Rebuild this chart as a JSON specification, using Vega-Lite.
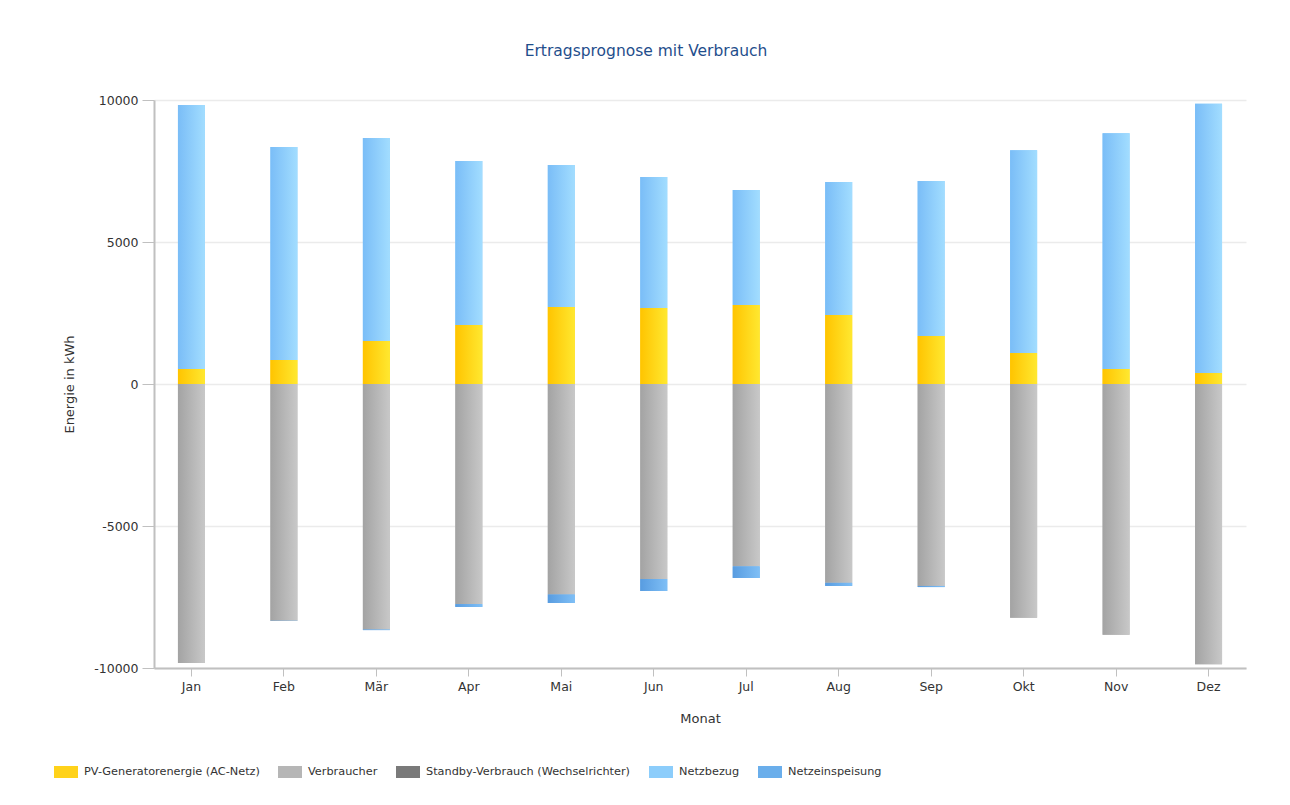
{
  "$schema": "https://vega.github.io/schema/vega-lite/v6.json",
  "width": 1092,
  "height": 568,
  "autosize": "none",
  "padding": {"left": 154, "top": 100, "right": 44, "bottom": 137},
  "background": "white",
  "title": {
    "text": "Ertragsprognose mit Verbrauch",
    "font": "DejaVu Sans",
    "fontSize": 15.5,
    "fontWeight": "normal",
    "color": "#1f4e8c",
    "anchor": "middle",
    "dx": -54,
    "offset": 35
  },
  "data": {
    "values": [
      {"monat": "Jan", "serie": "PV-Generatorenergie (AC-Netz)", "wert": 530},
      {"monat": "Jan", "serie": "Netzbezug", "wert": 9290},
      {"monat": "Jan", "serie": "Verbraucher", "wert": -9820},
      {"monat": "Jan", "serie": "Standby-Verbrauch (Wechselrichter)", "wert": 0},
      {"monat": "Jan", "serie": "Netzeinspeisung", "wert": 0},
      {"monat": "Feb", "serie": "PV-Generatorenergie (AC-Netz)", "wert": 845},
      {"monat": "Feb", "serie": "Netzbezug", "wert": 7500},
      {"monat": "Feb", "serie": "Verbraucher", "wert": -8340},
      {"monat": "Feb", "serie": "Standby-Verbrauch (Wechselrichter)", "wert": 0},
      {"monat": "Feb", "serie": "Netzeinspeisung", "wert": -5},
      {"monat": "Mär", "serie": "PV-Generatorenergie (AC-Netz)", "wert": 1515},
      {"monat": "Mär", "serie": "Netzbezug", "wert": 7150},
      {"monat": "Mär", "serie": "Verbraucher", "wert": -8645},
      {"monat": "Mär", "serie": "Standby-Verbrauch (Wechselrichter)", "wert": 0},
      {"monat": "Mär", "serie": "Netzeinspeisung", "wert": -20},
      {"monat": "Apr", "serie": "PV-Generatorenergie (AC-Netz)", "wert": 2080},
      {"monat": "Apr", "serie": "Netzbezug", "wert": 5770},
      {"monat": "Apr", "serie": "Verbraucher", "wert": -7750},
      {"monat": "Apr", "serie": "Standby-Verbrauch (Wechselrichter)", "wert": 0},
      {"monat": "Apr", "serie": "Netzeinspeisung", "wert": -100},
      {"monat": "Mai", "serie": "PV-Generatorenergie (AC-Netz)", "wert": 2710},
      {"monat": "Mai", "serie": "Netzbezug", "wert": 5000},
      {"monat": "Mai", "serie": "Verbraucher", "wert": -7410},
      {"monat": "Mai", "serie": "Standby-Verbrauch (Wechselrichter)", "wert": 0},
      {"monat": "Mai", "serie": "Netzeinspeisung", "wert": -300},
      {"monat": "Jun", "serie": "PV-Generatorenergie (AC-Netz)", "wert": 2680},
      {"monat": "Jun", "serie": "Netzbezug", "wert": 4610},
      {"monat": "Jun", "serie": "Verbraucher", "wert": -6870},
      {"monat": "Jun", "serie": "Standby-Verbrauch (Wechselrichter)", "wert": 0},
      {"monat": "Jun", "serie": "Netzeinspeisung", "wert": -420},
      {"monat": "Jul", "serie": "PV-Generatorenergie (AC-Netz)", "wert": 2780},
      {"monat": "Jul", "serie": "Netzbezug", "wert": 4050},
      {"monat": "Jul", "serie": "Verbraucher", "wert": -6420},
      {"monat": "Jul", "serie": "Standby-Verbrauch (Wechselrichter)", "wert": 0},
      {"monat": "Jul", "serie": "Netzeinspeisung", "wert": -410},
      {"monat": "Aug", "serie": "PV-Generatorenergie (AC-Netz)", "wert": 2430},
      {"monat": "Aug", "serie": "Netzbezug", "wert": 4680},
      {"monat": "Aug", "serie": "Verbraucher", "wert": -7000},
      {"monat": "Aug", "serie": "Standby-Verbrauch (Wechselrichter)", "wert": 0},
      {"monat": "Aug", "serie": "Netzeinspeisung", "wert": -110},
      {"monat": "Sep", "serie": "PV-Generatorenergie (AC-Netz)", "wert": 1690},
      {"monat": "Sep", "serie": "Netzbezug", "wert": 5460},
      {"monat": "Sep", "serie": "Verbraucher", "wert": -7110},
      {"monat": "Sep", "serie": "Standby-Verbrauch (Wechselrichter)", "wert": 0},
      {"monat": "Sep", "serie": "Netzeinspeisung", "wert": -40},
      {"monat": "Okt", "serie": "PV-Generatorenergie (AC-Netz)", "wert": 1090},
      {"monat": "Okt", "serie": "Netzbezug", "wert": 7140},
      {"monat": "Okt", "serie": "Verbraucher", "wert": -8230},
      {"monat": "Okt", "serie": "Standby-Verbrauch (Wechselrichter)", "wert": 0},
      {"monat": "Okt", "serie": "Netzeinspeisung", "wert": 0},
      {"monat": "Nov", "serie": "PV-Generatorenergie (AC-Netz)", "wert": 530},
      {"monat": "Nov", "serie": "Netzbezug", "wert": 8300},
      {"monat": "Nov", "serie": "Verbraucher", "wert": -8830},
      {"monat": "Nov", "serie": "Standby-Verbrauch (Wechselrichter)", "wert": 0},
      {"monat": "Nov", "serie": "Netzeinspeisung", "wert": 0},
      {"monat": "Dez", "serie": "PV-Generatorenergie (AC-Netz)", "wert": 385},
      {"monat": "Dez", "serie": "Netzbezug", "wert": 9480},
      {"monat": "Dez", "serie": "Verbraucher", "wert": -9865},
      {"monat": "Dez", "serie": "Standby-Verbrauch (Wechselrichter)", "wert": 0},
      {"monat": "Dez", "serie": "Netzeinspeisung", "wert": 0}
    ]
  },
  "transform": [
    {"calculate": "indexof(['PV-Generatorenergie (AC-Netz)','Verbraucher','Standby-Verbrauch (Wechselrichter)','Netzbezug','Netzeinspeisung'], datum.serie)", "as": "reihenfolge"},
    {"stack": "wert", "groupby": ["monat"], "sort": [{"field": "reihenfolge", "order": "ascending"}], "offset": "zero", "as": ["y0", "y1"]}
  ],
  "encoding": {
    "x": {
      "field": "monat",
      "type": "nominal",
      "sort": ["Jan", "Feb", "Mär", "Apr", "Mai", "Jun", "Jul", "Aug", "Sep", "Okt", "Nov", "Dez"],
      "scale": {"paddingInner": 0.708, "paddingOuter": 0.259},
      "axis": {
        "title": "Monat",
        "labelAngle": 0,
        "labelFont": "DejaVu Sans",
        "labelFontSize": 12.5,
        "labelColor": "#333333",
        "labelPadding": 4,
        "titleFont": "DejaVu Sans",
        "titleFontSize": 13,
        "titleFontWeight": "normal",
        "titleColor": "#333333",
        "titlePadding": 20,
        "domainColor": "#c0c0c0",
        "domainWidth": 2,
        "tickColor": "#c0c0c0",
        "tickSize": 8,
        "grid": false
      }
    },
    "y": {
      "field": "y0",
      "type": "quantitative",
      "scale": {"domain": [-10000, 10000], "nice": false},
      "axis": {
        "title": "Energie in kWh",
        "values": [-10000, -5000, 0, 5000, 10000],
        "labelExpr": "'' + datum.value",
        "labelFont": "DejaVu Sans",
        "labelFontSize": 12.5,
        "labelColor": "#333333",
        "labelPadding": 4,
        "titleFont": "DejaVu Sans",
        "titleFontSize": 13,
        "titleFontWeight": "normal",
        "titleColor": "#333333",
        "titlePadding": 17,
        "domainColor": "#c0c0c0",
        "domainWidth": 2,
        "tickColor": "#c0c0c0",
        "tickSize": 12,
        "grid": true,
        "gridColor": "#ebebeb",
        "gridWidth": 1.5
      }
    },
    "y2": {"field": "y1"}
  },
  "layer": [
    {
      "mark": {"type": "bar"},
      "encoding": {
        "color": {
          "field": "serie",
          "type": "nominal",
          "scale": {
            "domain": ["PV-Generatorenergie (AC-Netz)", "Verbraucher", "Standby-Verbrauch (Wechselrichter)", "Netzbezug", "Netzeinspeisung"],
            "range": ["#ffd21a", "#b6b6b6", "#7a7a7a", "#8ccdfb", "#6aaeeb"]
          },
          "legend": {
            "title": null,
            "orient": "none",
            "direction": "horizontal",
            "legendX": -100,
            "legendY": 660,
            "symbolType": "M-1,-0.5H1V0.5H-1Z",
            "symbolSize": 576,
            "symbolStrokeWidth": 0,
            "labelFont": "DejaVu Sans",
            "labelFontSize": 11.3,
            "labelColor": "#333333",
            "labelOffset": 6,
            "columnPadding": 18,
            "labelLimit": 400
          }
        }
      }
    },
    {
      "transform": [{"filter": "datum.serie === 'PV-Generatorenergie (AC-Netz)'"}],
      "mark": {"type": "bar", "color": {"gradient": "linear", "x1": 0, "y1": 0, "x2": 1, "y2": 0, "stops": [{"offset": 0, "color": "#ffc400"}, {"offset": 1, "color": "#ffe830"}]}}
    },
    {
      "transform": [{"filter": "datum.serie === 'Verbraucher'"}],
      "mark": {"type": "bar", "color": {"gradient": "linear", "x1": 0, "y1": 0, "x2": 1, "y2": 0, "stops": [{"offset": 0, "color": "#a3a3a3"}, {"offset": 1, "color": "#c8c8c8"}]}}
    },
    {
      "transform": [{"filter": "datum.serie === 'Netzbezug'"}],
      "mark": {"type": "bar", "color": {"gradient": "linear", "x1": 0, "y1": 0, "x2": 1, "y2": 0, "stops": [{"offset": 0, "color": "#7abdf7"}, {"offset": 1, "color": "#a2ddff"}]}}
    },
    {
      "transform": [{"filter": "datum.serie === 'Netzeinspeisung'"}],
      "mark": {"type": "bar", "color": {"gradient": "linear", "x1": 0, "y1": 0, "x2": 1, "y2": 0, "stops": [{"offset": 0, "color": "#589ce0"}, {"offset": 1, "color": "#7fbff6"}]}}
    }
  ],
  "config": {
    "view": {"stroke": null}
  }
}
